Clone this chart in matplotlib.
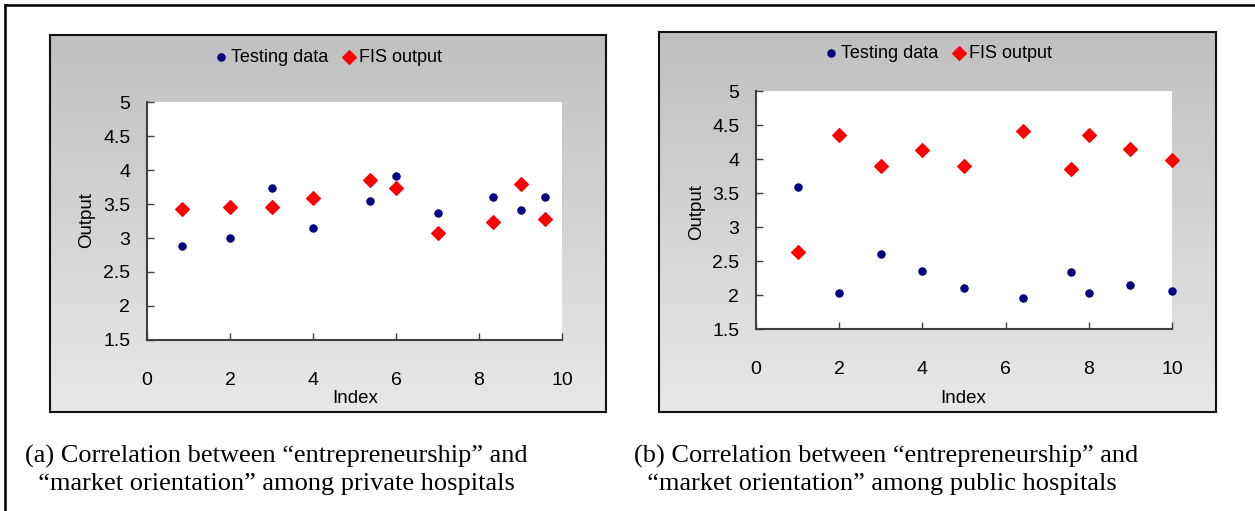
import numpy as np
import matplotlib
matplotlib.use('Agg')
import matplotlib.pyplot as plt
from matplotlib.lines import Line2D

# (a) private hospitals
idx_private = [0.85, 2.0, 3.0, 4.0, 5.37, 6.0, 7.0, 8.33, 9.0, 9.6]
test_private = [2.88, 3.00, 3.74, 3.14, 3.54, 3.91, 3.37, 3.60, 3.41, 3.60]
fis_private = [3.42, 3.45, 3.45, 3.59, 3.85, 3.74, 3.08, 3.23, 3.80, 3.28]

# (b) public hospitals
idx_public = [1.0, 2.0, 3.0, 4.0, 5.0, 6.43, 7.58, 8.0, 9.0, 10.0]
test_public = [3.59, 2.03, 2.60, 2.35, 2.10, 1.95, 2.34, 2.03, 2.15, 2.06]
fis_public = [2.63, 4.35, 3.90, 4.13, 3.90, 4.41, 3.85, 4.35, 4.15, 3.99]

x_ticks = [0, 2, 4, 6, 8, 10]
y_ticks = [1.5, 2, 2.5, 3, 3.5, 4, 4.5, 5]
y_ticklabels = ['1.5', '2', '2.5', '3', '3.5', '4', '4.5', '5']
legend_labels = ['Testing data', 'FIS output']
captions = [
    '(a) Correlation between \u201centrepreneurship\u201d and\n'
    '  \u201cmarket orientation\u201d among private hospitals',
    '(b) Correlation between \u201centrepreneurship\u201d and\n'
    '  \u201cmarket orientation\u201d among public hospitals',
]

W, H = 1255, 511
SANS = ['Liberation Sans Narrow', 'Liberation Sans', 'DejaVu Sans']
plt.rcParams['font.family'] = SANS


def px_rect(x0, y0, x1, y1):
    # pixel box (top-left origin) -> figure fraction rect
    return [x0 / W, 1 - y1 / H, (x1 - x0) / W, (y1 - y0) / H]


fig = plt.figure(figsize=(W / 100, H / 100), dpi=100)

# outer frame (top and left lines)
fig.add_artist(Line2D([5 / W, 1], [1 - 5 / H, 1 - 5 / H], color='black', lw=1.8,
                      transform=fig.transFigure))
fig.add_artist(Line2D([5 / W, 5 / W], [0, 1 - 5 / H], color='black', lw=1.8,
                      transform=fig.transFigure))

panels = [
    dict(box=(50, 35, 606, 412), plot=(147, 102, 562, 340),
         x=idx_private, t=test_private, f=fis_private,
         leg=(327, 57), ylab=(-0.145, 0.504), xlab=(0.501, -0.244),
         cap=(25, 470)),
    dict(box=(659, 32, 1216, 412), plot=(756, 91, 1172, 329),
         x=idx_public, t=test_public, f=fis_public,
         leg=(937, 53), ylab=(-0.142, 0.49), xlab=(0.498, -0.294),
         cap=(634, 470)),
]

grad = np.linspace(0, 1, 256).reshape(-1, 1)
gray_cmap = matplotlib.colors.LinearSegmentedColormap.from_list(
    'bg', ['#c0c0c0', '#e8e8e8'])

for i, p in enumerate(panels):
    # gradient background panel
    bg = fig.add_axes(px_rect(*p['box']))
    bg.imshow(grad, aspect='auto', cmap=gray_cmap, extent=[0, 1, 0, 1],
              origin='upper')
    bg.set_xticks([])
    bg.set_yticks([])
    for s in bg.spines.values():
        s.set_linewidth(1.5)
        s.set_color('#111111')

    ax = fig.add_axes(px_rect(*p['plot']))
    ax.set_facecolor('white')
    ax.scatter(p['x'], p['t'], marker='o', s=26, color='#000080',
               label=legend_labels[0], zorder=3, clip_on=False)
    ax.scatter(p['x'], p['f'], marker='D', s=48, color='#ff0000',
               label=legend_labels[1], zorder=3, clip_on=False)
    ax.set_xlim(0, 10)
    ax.set_ylim(1.5, 5)
    ax.set_xticks(x_ticks)
    ax.set_yticks(y_ticks)
    ax.set_yticklabels(y_ticklabels)
    ax.spines['top'].set_visible(False)
    ax.spines['right'].set_visible(False)
    for side in ('left', 'bottom'):
        ax.spines[side].set_color('#404040')
        ax.spines[side].set_linewidth(1.5)
    ax.tick_params(axis='x', direction='in', length=5, width=1, color='#404040',
                   pad=23, labelsize=14)
    ax.tick_params(axis='y', direction='in', length=5, width=1, color='#404040',
                   pad=12, labelsize=14)
    ax.text(p['ylab'][0], p['ylab'][1], 'Output', rotation=90, fontsize=13.5,
            ha='center', va='center', transform=ax.transAxes)
    ax.text(p['xlab'][0], p['xlab'][1], 'Index', fontsize=13.5,
            ha='center', va='center', transform=ax.transAxes)

    lx, ly = p['leg']
    ax.legend(loc='center', bbox_to_anchor=(lx / W, 1 - ly / H),
              bbox_transform=fig.transFigure, ncol=2, frameon=False,
              fontsize=13, handletextpad=0.1, columnspacing=0.6,
              handlelength=1.0, borderpad=0)

    cx, cy = p['cap']
    fig.text(cx / W, 1 - cy / H, captions[i],
             family=['Liberation Serif', 'DejaVu Serif'], fontsize=19,
             ha='left', va='center', linespacing=1.25)

fig.savefig('out.png', dpi=100)
